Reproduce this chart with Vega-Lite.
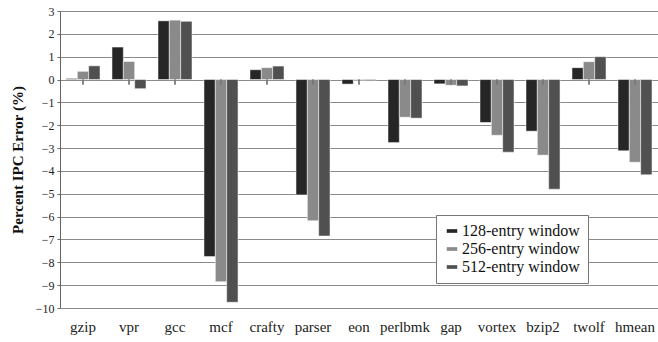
{
  "$schema": "https://vega.github.io/schema/vega-lite/v6.json",
  "width": 598,
  "height": 297,
  "autosize": {"type": "none"},
  "padding": {"left": 60, "top": 11, "right": 0, "bottom": 34},
  "background": "white",
  "config": {
    "view": {"stroke": null},
    "font": "Liberation Serif",
    "style": {
      "guide-label": {"font": "Liberation Serif"},
      "guide-title": {"font": "Liberation Serif"}
    },
    "axis": {"labelFont": "Liberation Serif", "titleFont": "Liberation Serif"},
    "axisY": {
      "title": "Percent IPC Error (%)",
      "titleFont": "Liberation Serif",
      "titleFontSize": 15,
      "titleFontWeight": "bold",
      "titleColor": "#111",
      "titlePadding": 10,
      "labelFont": "Liberation Serif",
      "labelFontSize": 12,
      "labelColor": "#222",
      "labelPadding": 3,
      "labelOverlap": false,
      "tickSize": 3,
      "tickColor": "#666",
      "domainColor": "#666",
      "gridColor": "#8a8a8a",
      "gridWidth": 1
    }
  },
  "data": {
    "values": [
      {"bench": "gzip", "win": "128-entry window", "v": 0.05},
      {"bench": "gzip", "win": "256-entry window", "v": 0.36},
      {"bench": "gzip", "win": "512-entry window", "v": 0.6},
      {"bench": "vpr", "win": "128-entry window", "v": 1.42},
      {"bench": "vpr", "win": "256-entry window", "v": 0.79},
      {"bench": "vpr", "win": "512-entry window", "v": -0.4},
      {"bench": "gcc", "win": "128-entry window", "v": 2.57},
      {"bench": "gcc", "win": "256-entry window", "v": 2.6},
      {"bench": "gcc", "win": "512-entry window", "v": 2.55},
      {"bench": "mcf", "win": "128-entry window", "v": -7.75},
      {"bench": "mcf", "win": "256-entry window", "v": -8.85},
      {"bench": "mcf", "win": "512-entry window", "v": -9.75},
      {"bench": "crafty", "win": "128-entry window", "v": 0.43},
      {"bench": "crafty", "win": "256-entry window", "v": 0.52},
      {"bench": "crafty", "win": "512-entry window", "v": 0.59},
      {"bench": "parser", "win": "128-entry window", "v": -5.05},
      {"bench": "parser", "win": "256-entry window", "v": -6.18},
      {"bench": "parser", "win": "512-entry window", "v": -6.85},
      {"bench": "eon", "win": "128-entry window", "v": -0.2},
      {"bench": "eon", "win": "256-entry window", "v": -0.06},
      {"bench": "eon", "win": "512-entry window", "v": -0.05},
      {"bench": "perlbmk", "win": "128-entry window", "v": -2.76},
      {"bench": "perlbmk", "win": "256-entry window", "v": -1.65},
      {"bench": "perlbmk", "win": "512-entry window", "v": -1.69},
      {"bench": "gap", "win": "128-entry window", "v": -0.19},
      {"bench": "gap", "win": "256-entry window", "v": -0.25},
      {"bench": "gap", "win": "512-entry window", "v": -0.28},
      {"bench": "vortex", "win": "128-entry window", "v": -1.88},
      {"bench": "vortex", "win": "256-entry window", "v": -2.44},
      {"bench": "vortex", "win": "512-entry window", "v": -3.18},
      {"bench": "bzip2", "win": "128-entry window", "v": -2.26},
      {"bench": "bzip2", "win": "256-entry window", "v": -3.31},
      {"bench": "bzip2", "win": "512-entry window", "v": -4.8},
      {"bench": "twolf", "win": "128-entry window", "v": 0.52},
      {"bench": "twolf", "win": "256-entry window", "v": 0.78},
      {"bench": "twolf", "win": "512-entry window", "v": 1.0},
      {"bench": "hmean", "win": "128-entry window", "v": -3.12},
      {"bench": "hmean", "win": "256-entry window", "v": -3.62},
      {"bench": "hmean", "win": "512-entry window", "v": -4.17}
    ]
  },
  "encoding": {
    "x": {
      "field": "bench",
      "type": "nominal",
      "sort": null,
      "scale": {"paddingInner": 0.26, "paddingOuter": 0.13},
      "axis": {
        "title": null,
        "labelAngle": 0,
        "labelFont": "Liberation Serif",
        "labelFontSize": 15,
        "labelColor": "#222",
        "labelPadding": 11,
        "domain": false,
        "ticks": false,
        "grid": false
      }
    }
  },
  "layer": [
    {
      "mark": {"type": "bar", "stroke": "white", "strokeWidth": 0.5},
      "encoding": {
        "y": {
          "field": "v",
          "type": "quantitative",
          "scale": {"domain": [-10, 3], "nice": false},
          "axis": {
            "title": "Percent IPC Error (%)",
            "labelFont": "Liberation Serif",
            "values": [3, 2, 1, 0, -1, -2, -3, -4, -5, -6, -7, -8, -9, -10]
          }
        },
        "xOffset": {"field": "win", "type": "nominal", "scale": {"paddingInner": 0, "paddingOuter": 0}},
        "color": {
          "field": "win",
          "type": "nominal",
          "scale": {"range": ["#262626", "#8a8a8a", "#505050"]},
          "legend": {
            "title": null,
            "orient": "none",
            "legendX": 376,
            "legendY": 204,
            "labelFont": "Liberation Serif",
            "labelFontSize": 16,
            "labelColor": "#111",
            "symbolType": "M-1,-0.35H1V0.35H-1Z",
            "symbolSize": 110,
            "symbolStrokeWidth": 0,
            "rowPadding": 2,
            "padding": 8,
            "strokeColor": "#777",
            "fillColor": "white",
            "labelOffset": 2
          }
        }
      }
    },
    {
      "mark": {"type": "rule", "color": "#777", "strokeWidth": 1},
      "encoding": {
        "y": {
          "datum": 0,
          "type": "quantitative",
          "axis": {
            "title": "Percent IPC Error (%)",
            "labelFont": "Liberation Serif",
            "values": [3, 2, 1, 0, -1, -2, -3, -4, -5, -6, -7, -8, -9, -10]
          }
        },
        "y2": {"datum": -0.22}
      }
    }
  ]
}
